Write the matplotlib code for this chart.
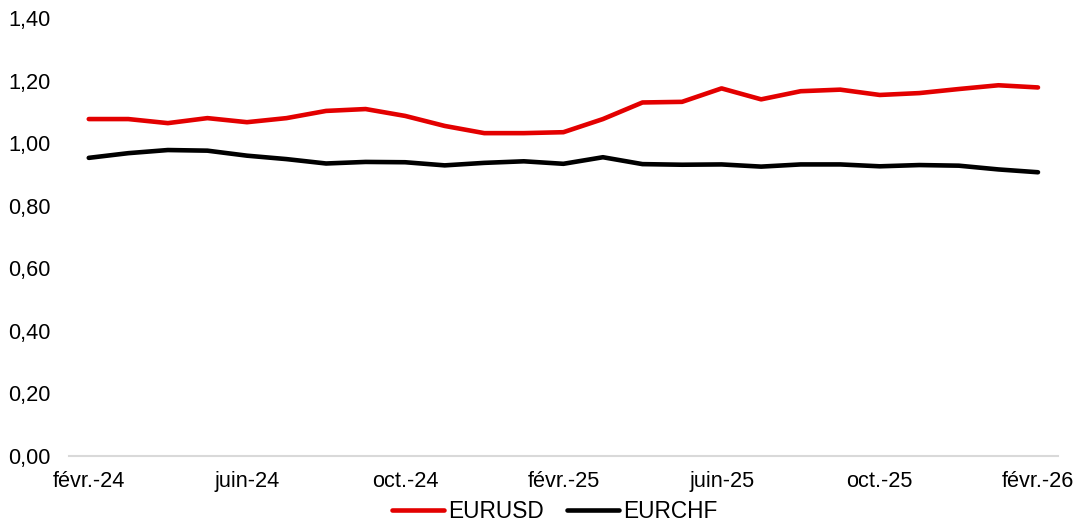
import matplotlib.pyplot as plt
import numpy as np

plt.rcParams['font.family'] = ['Liberation Sans', 'DejaVu Sans']

# monthly points, févr.-24 .. févr.-26
months = ['févr.-24', 'mars-24', 'avr.-24', 'mai-24', 'juin-24', 'juil.-24', 'août-24',
          'sept.-24', 'oct.-24', 'nov.-24', 'déc.-24', 'janv.-25', 'févr.-25', 'mars-25',
          'avr.-25', 'mai-25', 'juin-25', 'juil.-25', 'août-25', 'sept.-25', 'oct.-25',
          'nov.-25', 'déc.-25', 'janv.-26', 'févr.-26']
eurusd = [1.077, 1.077, 1.064, 1.080, 1.067, 1.080, 1.103, 1.109, 1.087, 1.055, 1.032,
          1.032, 1.035, 1.077, 1.130, 1.132, 1.175, 1.140, 1.166, 1.171, 1.154, 1.160,
          1.173, 1.185, 1.178]
eurchf = [0.953, 0.968, 0.978, 0.976, 0.960, 0.949, 0.935, 0.940, 0.939, 0.929, 0.937,
          0.942, 0.934, 0.955, 0.933, 0.931, 0.932, 0.925, 0.932, 0.932, 0.926, 0.930,
          0.928, 0.916, 0.907]
yticks = [0, 0.2, 0.4, 0.6, 0.8, 1.0, 1.2, 1.4]

fig = plt.figure(figsize=(10.83, 5.23), dpi=100)
ax = fig.add_axes([0.0637, 0.128, 0.913, 0.8376])

x = np.arange(len(months))
ax.plot(x, eurusd, color='#E30000', lw=3.3, label='EURUSD', solid_capstyle='round')
ax.plot(x, eurchf, color='black', lw=3.3, label='EURCHF', solid_capstyle='round')

ax.set_xlim(-0.5, len(months) - 0.5)
ax.set_ylim(0, 1.4)
ax.set_yticks(yticks)
ax.set_yticklabels([f'{v:.2f}'.replace('.', ',') for v in yticks])
ax.set_xticks(x[::4])
ax.set_xticklabels(months[::4])
ax.tick_params(axis='both', length=0, labelsize=15.7)
ax.tick_params(axis='y', pad=13)
ax.tick_params(axis='x', pad=11)

for s in ['top', 'right', 'left']:
    ax.spines[s].set_visible(False)
ax.spines['bottom'].set_color('#D9D9D9')
ax.spines['bottom'].set_linewidth(1.5)

fig.legend(loc='center', bbox_to_anchor=(0.512, 0.022), ncol=2, frameon=False,
           fontsize=16.3, handlelength=2.3, handletextpad=0.2, columnspacing=1.0)

fig.savefig('out.png', dpi=100)
